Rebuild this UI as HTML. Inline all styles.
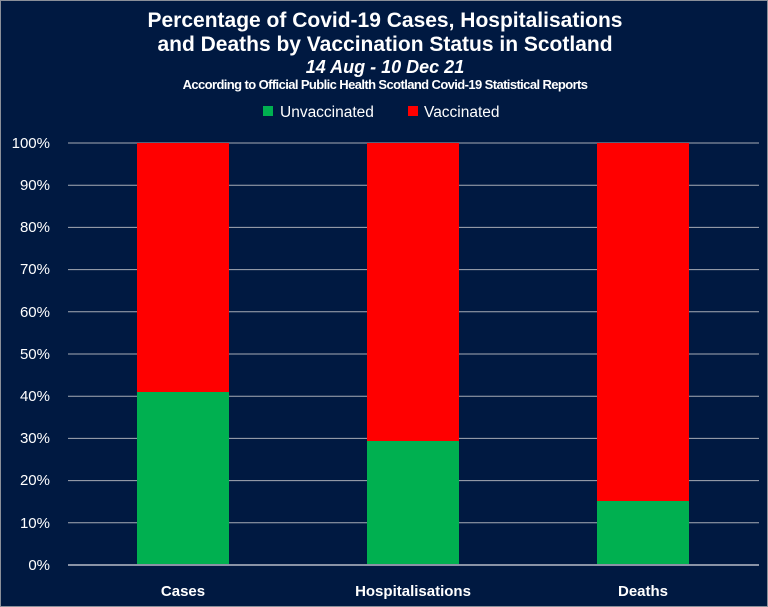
<!DOCTYPE html>
<html><head><style>
body{margin:0;background:#001941;}
svg{display:block}
</style></head><body>
<svg width="768" height="607" xmlns="http://www.w3.org/2000/svg" font-family="Liberation Sans, sans-serif">
<rect x="0.5" y="0.5" width="767" height="606" fill="#001941" stroke="#8a8f99"/>
<g fill="#fff" text-anchor="middle" font-weight="bold">
<text x="385" y="27" font-size="21">Percentage of Covid-19 Cases, Hospitalisations</text>
<text x="385" y="51" font-size="21">and Deaths by Vaccination Status in Scotland</text>
<text x="385" y="73" font-size="18" font-style="italic">14 Aug - 10 Dec 21</text>
<text x="385" y="89" font-size="13" letter-spacing="-0.6">According to Official Public Health Scotland Covid-19 Statistical Reports</text>
</g>
<rect x="263" y="106" width="10" height="10" fill="#00b050"/>
<text x="280" y="117" fill="#fff" font-size="15.5">Unvaccinated</text>
<rect x="408" y="106" width="10" height="10" fill="#ff0000"/>
<text x="424" y="117" fill="#fff" font-size="15.5">Vaccinated</text>
<g stroke="#a6abb5" stroke-width="1">
<line x1="68" x2="759" y1="143" y2="143"/><line x1="68" x2="759" y1="185.2" y2="185.2"/>
<line x1="68" x2="759" y1="227.4" y2="227.4"/><line x1="68" x2="759" y1="269.6" y2="269.6"/>
<line x1="68" x2="759" y1="311.8" y2="311.8"/><line x1="68" x2="759" y1="354" y2="354"/>
<line x1="68" x2="759" y1="396.2" y2="396.2"/><line x1="68" x2="759" y1="438.4" y2="438.4"/>
<line x1="68" x2="759" y1="480.6" y2="480.6"/><line x1="68" x2="759" y1="522.8" y2="522.8"/>
</g>
<g fill="#ff0000">
<rect x="137" y="143" width="92" height="422"/>
<rect x="367" y="143" width="92" height="422"/>
<rect x="597" y="143" width="92" height="422"/>
</g>
<g fill="#00b050">
<rect x="137" y="392" width="92" height="173"/>
<rect x="367" y="441" width="92" height="124"/>
<rect x="597" y="501" width="92" height="64"/>
</g>
<line x1="68" x2="759" y1="565" y2="565" stroke="#8a93a6" stroke-width="2"/>
<g fill="#fff" font-size="15" text-anchor="end">
<text x="50" y="148">100%</text><text x="50" y="190">90%</text><text x="50" y="232">80%</text>
<text x="50" y="274">70%</text><text x="50" y="317">60%</text><text x="50" y="359">50%</text>
<text x="50" y="401">40%</text><text x="50" y="443">30%</text><text x="50" y="485">20%</text>
<text x="50" y="528">10%</text><text x="50" y="570">0%</text>
</g>
<g fill="#fff" font-size="15" font-weight="bold" text-anchor="middle">
<text x="183" y="596">Cases</text><text x="413" y="596">Hospitalisations</text><text x="643" y="596">Deaths</text>
</g>
</svg>
</body></html>
